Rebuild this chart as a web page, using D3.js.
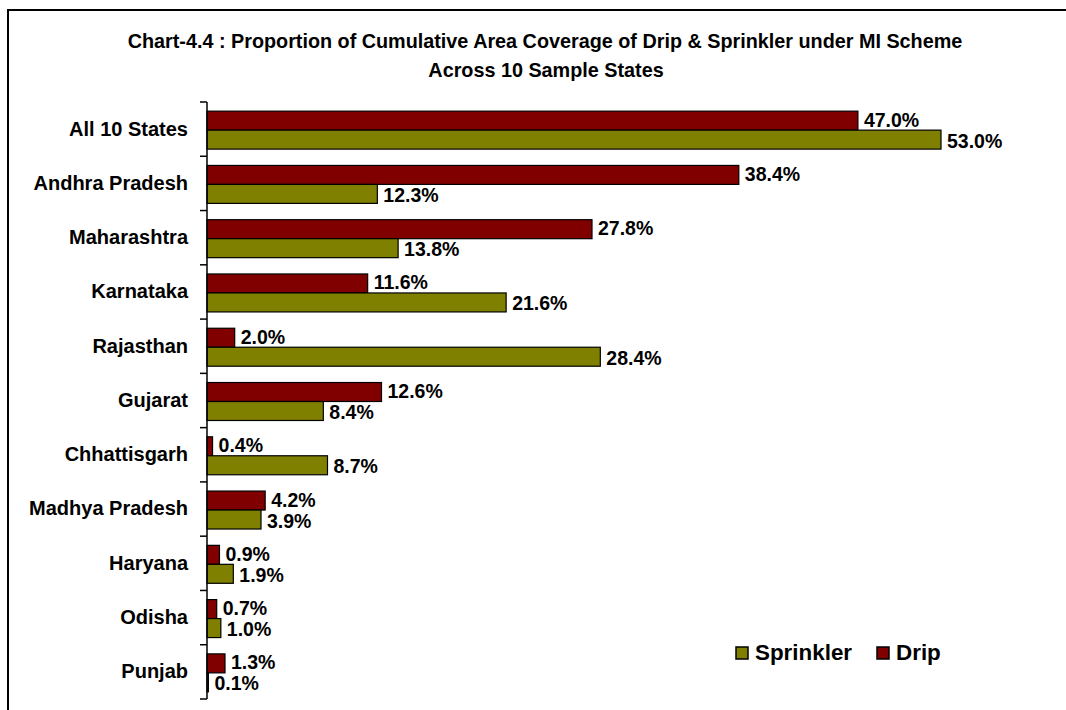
<!DOCTYPE html>
<html>
<head>
<meta charset="utf-8">
<script src="https://cdn.jsdelivr.net/npm/d3@7"></script>
<style>
  body { margin: 0; background: #fff; }
  text { font-family: "Liberation Sans", Arial, sans-serif; font-weight: bold; fill: #000; }
</style>
</head>
<body>
<div id="chart"></div>
<script>
// data
var states = ["All 10 States", "Andhra Pradesh", "Maharashtra", "Karnataka", "Rajasthan",
  "Gujarat", "Chhattisgarh", "Madhya Pradesh", "Haryana", "Odisha", "Punjab"];
var drip = [47.0, 38.4, 27.8, 11.6, 2.0, 12.6, 0.4, 4.2, 0.9, 0.7, 1.3];
var sprinkler = [53.0, 12.3, 13.8, 21.6, 28.4, 8.4, 8.7, 3.9, 1.9, 1.0, 0.1];
var seriesNames = ["Drip", "Sprinkler"];
var colors = { Drip: "#800000", Sprinkler: "#808000" };

var width = 1066, height = 710;

var svg = d3.select("#chart").append("svg")
  .attr("width", width)
  .attr("height", height);

// outer frame
svg.append("rect")
  .attr("x", 8).attr("y", 10)
  .attr("width", 1080).attr("height", 720)
  .attr("fill", "none")
  .attr("stroke", "#000")
  .attr("stroke-width", 2);

// title
var title = svg.append("text")
  .attr("text-anchor", "middle")
  .style("font-size", "19.8px");
title.append("tspan").attr("x", 545).attr("y", 48)
  .text("Chart-4.4 : Proportion of Cumulative Area Coverage of Drip & Sprinkler under MI Scheme");
title.append("tspan").attr("x", 546).attr("y", 77)
  .text("Across 10 Sample States");

// scales
var x = d3.scaleLinear().domain([0, 53]).range([207, 941]);
var y = d3.scaleBand().domain(states).range([102, 699]);
var y1 = d3.scaleBand().domain(seriesNames).range([1, y.bandwidth() + 1]).paddingOuter(0.43);

var rows = states.map(function(s, i) {
  return { state: s, values: [
    { key: "Drip", value: drip[i] },
    { key: "Sprinkler", value: sprinkler[i] }
  ]};
});

var groups = svg.selectAll(".state")
  .data(rows)
  .enter().append("g")
  .attr("class", "state")
  .attr("transform", function(d) { return "translate(0," + y(d.state) + ")"; });

groups.selectAll("rect")
  .data(function(d) { return d.values; })
  .enter().append("rect")
  .attr("x", x(0))
  .attr("y", function(d) { return y1(d.key); })
  .attr("width", function(d) { return x(d.value) - x(0); })
  .attr("height", y1.bandwidth())
  .attr("fill", function(d) { return colors[d.key]; })
  .attr("stroke", "#000")
  .attr("stroke-width", 1.2);

// value labels, pushed apart a little so the pairs don't collide
groups.selectAll(".lbl")
  .data(function(d) { return d.values; })
  .enter().append("text")
  .attr("class", "lbl")
  .attr("x", function(d) { return x(d.value) + 6; })
  .attr("y", function(d) { return y1(d.key) + y1.bandwidth() / 2 + (d.key === "Drip" ? -1 : 1); })
  .attr("dy", "0.36em")
  .style("font-size", "19.5px")
  .text(function(d) { return d.value.toFixed(1) + "%"; });

// category axis
var yAxis = svg.append("g")
  .attr("transform", "translate(" + x(0) + ",0)")
  .call(d3.axisLeft(y).tickSize(0).tickPadding(19));
yAxis.select(".domain").remove();
yAxis.selectAll("text").style("font-size", "20px");

svg.append("line")
  .attr("x1", x(0)).attr("x2", x(0))
  .attr("y1", 102).attr("y2", 699)
  .attr("stroke", "#000").attr("stroke-width", 1.5);

svg.selectAll(".tick-mark")
  .data(states.concat(["end"]))
  .enter().append("line")
  .attr("class", "tick-mark")
  .attr("x1", x(0) - 7).attr("x2", x(0))
  .attr("y1", function(d, i) { return i < states.length ? y(d) : y.range()[1]; })
  .attr("y2", function(d, i) { return i < states.length ? y(d) : y.range()[1]; })
  .attr("stroke", "#000").attr("stroke-width", 1.5);

// legend
var legendItems = [
  { key: "Sprinkler", x: 736 },
  { key: "Drip", x: 877 }
];
var legend = svg.selectAll(".legend")
  .data(legendItems)
  .enter().append("g")
  .attr("class", "legend")
  .attr("transform", function(d) { return "translate(" + d.x + ",647)"; });
legend.append("rect")
  .attr("width", 12).attr("height", 12)
  .attr("fill", function(d) { return colors[d.key]; })
  .attr("stroke", "#000").attr("stroke-width", 1.5);
legend.append("text")
  .attr("x", 19).attr("y", 13)
  .style("font-size", "22.4px")
  .text(function(d) { return d.key; });
</script>
</body>
</html>
